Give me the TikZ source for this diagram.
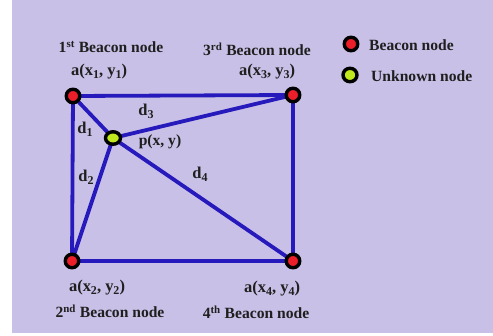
\documentclass[tikz,border=0pt]{standalone}
\usepackage{fontspec}
\setmainfont{Liberation Serif}
\usetikzlibrary{shapes.geometric}
\definecolor{bg}{RGB}{200,192,230}
\definecolor{ln}{RGB}{38,26,188}
\definecolor{rd}{RGB}{236,30,42}
\definecolor{gn}{RGB}{192,232,30}
\newcommand{\sbx}[1]{\raisebox{-0.18em}{\fontsize{12}{12}\selectfont #1}}
\begin{document}
\begin{tikzpicture}[x=1pt,y=-1pt,
  beacon/.style={circle,draw=black,line width=3.4pt,fill=rd,minimum size=13.5pt,inner sep=0pt},
  unknown/.style={ellipse,draw=black,line width=3.4pt,fill=gn,minimum width=15pt,minimum height=12.5pt,inner sep=0pt},
  edge/.style={draw=ln,line width=3.8pt},
  lbl/.style={font=\bfseries\fontsize{15.6}{17}\selectfont,inner sep=0pt,text=black!88},
  dl/.style={font=\bfseries\fontsize{16.5}{18}\selectfont,inner sep=0pt,text=black!88}]
\useasboundingbox (0,0) rectangle (493,336);
\fill[bg] (12,0) rectangle (493,333);
% node anchors for connectors
\coordinate (n1) at (73,96);
\coordinate (n3) at (293,95);
\coordinate (n2) at (72,261);
\coordinate (n4) at (293,261);
\coordinate (p) at (113,138);
% edges
\path[edge] (n1) -- (n3) -- (n4) -- (n2) -- cycle;
\path[edge] (n1) -- (p);
\path[edge] (p) -- (n2);
\path[edge] (p) -- (n3);
\path[edge] (p) -- (n4);
% nodes on top
\node[beacon] (b1) at (n1) {};
\node[beacon] (b3) at (n3) {};
\node[beacon] (b2) at (n2) {};
\node[beacon] (b4) at (n4) {};
\node[unknown] (pu) at (p) {};
% labels
\node[lbl] (t1) at (111,47) {1\textsuperscript{st} Beacon node};
\node[lbl] (t3) at (257,49) {3\textsuperscript{rd} Beacon node};
\node[lbl] (t2) at (110,311) {2\textsuperscript{nd} Beacon node};
\node[lbl] (t4) at (256,312) {4\textsuperscript{th} Beacon node};
\node[dl] (c1) at (99,72) {a(x\sbx{1}, y\sbx{1})};
\node[dl] (c3) at (267,72) {a(x\sbx{3}, y\sbx{3})};
\node[dl] (c2) at (97,288) {a(x\sbx{2}, y\sbx{2})};
\node[dl] (c4) at (272,289) {a(x\sbx{4}, y\sbx{4})};
\node[lbl] (pl) at (160,142) {p(x, y)};
\node[dl] (d1) at (85,129) {d\sbx{1}};
\node[dl] (d2) at (86,177) {d\sbx{2}};
\node[dl] (d3) at (146,111) {d\sbx{3}};
\node[dl] (d4) at (200,174) {d\sbx{4}};
% legend
\node[beacon] (lb) at (351,44) {};
\node[unknown,minimum width=14pt,minimum height=13.5pt] (lu) at (350,75) {};
\node[lbl,anchor=west] (lbt) at (369,45) {Beacon node};
\node[lbl,anchor=west] (lut) at (371,76) {Unknown node};
\end{tikzpicture}
\end{document}
